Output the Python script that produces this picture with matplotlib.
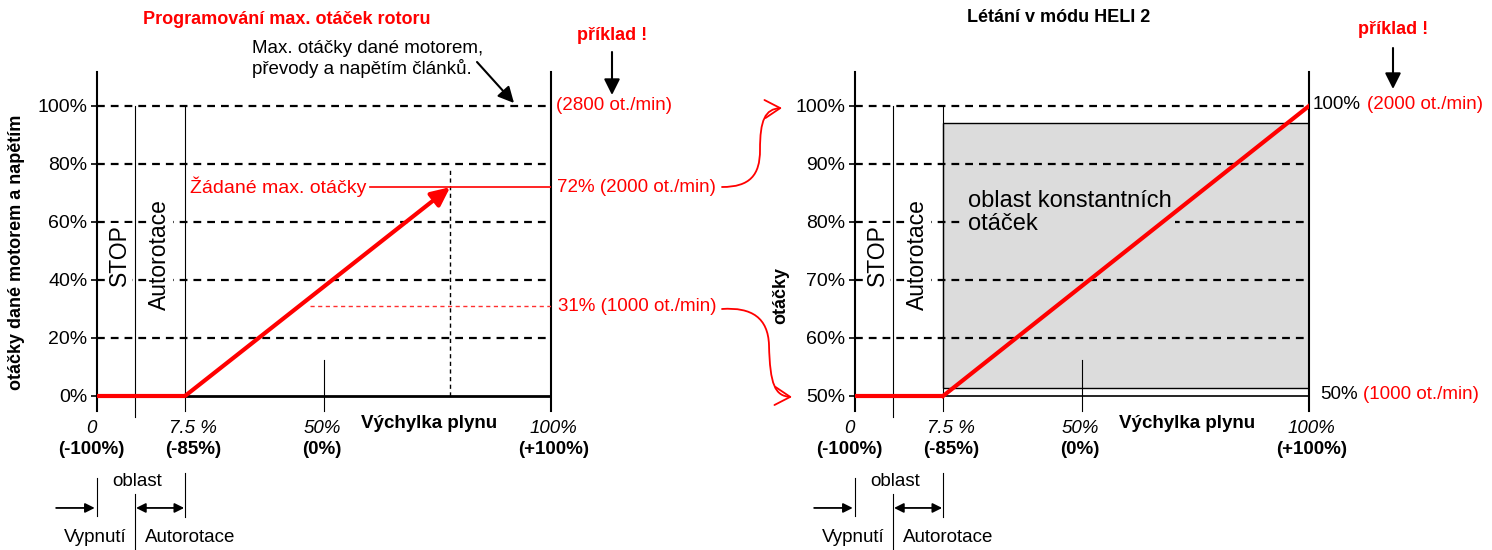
import matplotlib
matplotlib.use("Agg")
import matplotlib.pyplot as plt
from matplotlib.patches import FancyArrowPatch, Rectangle
from matplotlib.path import Path

plt.rcParams['font.family'] = ['Liberation Sans', 'DejaVu Sans']

# ---------------- data ----------------
y_ticks_left = [0, 20, 40, 60, 80, 100]
y_ticks_right = [50, 60, 70, 80, 90, 100]
throttle_top_labels = ["0", "7.5 %", "50%", "100%"]
throttle_bottom_labels = ["(-100%)", "(-85%)", "(0%)", "(+100%)"]
throttle_label_pos = [-1.3, 21.2, 49.6, 100.6]
stop_x = 8.4          # end of "STOP" zone (diagram position)
auto_x = 19.4         # 7.5 % throttle (diagram position)
mid_x = 50            # 50 % throttle
left_curve_x = [0, auto_x, 77.8]
left_curve_y = [0, 0, 72]
right_curve_x = [0, auto_x, 100]
right_curve_y = [50, 50, 100]
set_rpm_pct = 72
low_rpm_pct = 31
const_band = (51.4, 97.1)

RED = '#ff0000'
W, H, DPI = 1492, 550, 100
fig = plt.figure(figsize=(W / DPI, H / DPI), dpi=DPI)


def F(px, py):
    return (px / W, 1 - py / H)


def box(x0, x1, y0, y1):
    return [x0 / W, 1 - y1 / H, (x1 - x0) / W, (y1 - y0) / H]


axL = fig.add_axes(box(97, 551, 72, 411))
axR = fig.add_axes(box(855, 1309, 72, 411))
axL.set_xlim(0, 100)
axL.set_ylim(-5.2, 111.7)
axR.set_xlim(0, 100)
axR.set_ylim(47.41, 105.86)

GRID_LS = (0, (3.5, 2.7))


def common(ax, ticks):
    xt = ax.get_xaxis_transform()
    for s in ['top', 'bottom']:
        ax.spines[s].set_visible(False)
    for s in ['left', 'right']:
        ax.spines[s].set_linewidth(1.5)
    ax.set_xticks([])
    ax.set_yticks(ticks)
    ax.set_yticklabels([f"{t}%" for t in ticks], fontsize=14)
    ax.tick_params(axis='y', direction='out', length=4, width=1.2, pad=3,
                   right=False)
    ax.set_facecolor('none')
    for t in ticks[1:]:
        ax.axhline(t, color='k', lw=1.6, ls=GRID_LS, zorder=2)
    # zone lines
    ax.plot([stop_x, stop_x], [-0.018, 0.9], transform=xt, clip_on=False,
            color='k', lw=0.8, zorder=2.5)
    ax.plot([auto_x, auto_x], [0.0, 0.9], transform=xt, clip_on=False,
            color='k', lw=0.8, zorder=2.5)
    ax.plot([mid_x, mid_x], [0.0, 0.15], transform=xt, clip_on=False,
            color='k', lw=0.8, zorder=2.5)
    # rotated zone labels
    for xx, s in [(4.9, 'STOP'), (13.8, 'Autorotace')]:
        ax.text(xx, 0.46, s, transform=xt, rotation=90, fontsize=16.5,
                ha='center', va='center', zorder=3,
                bbox=dict(facecolor='white', edgecolor='none', pad=1))
    # x labels
    for pos, top, bot in zip(throttle_label_pos, throttle_top_labels,
                             throttle_bottom_labels):
        ax.text(pos, -0.053, top, transform=xt, style='italic', fontsize=13.5,
                ha='center', va='center', clip_on=False)
        ax.text(pos, -0.115, bot, transform=xt, fontweight='bold',
                fontsize=13.5, ha='center', va='center', clip_on=False)
    ax.text(73.2, -0.038, 'Výchylka plynu', transform=xt, fontweight='bold',
            fontsize=13.5, ha='center', va='center', clip_on=False)
    # bottom zone explanation
    for xx, y0, y1 in [(0, -0.198, -0.31), (stop_x, -0.245, -0.41),
                       (auto_x, -0.183, -0.313)]:
        ax.plot([xx, xx], [y0, y1], transform=xt, clip_on=False, color='k',
                lw=0.8)
    ax.annotate('', xy=(-0.5, -0.286), xytext=(-9, -0.286), xycoords=xt,
                textcoords=xt, annotation_clip=False,
                arrowprops=dict(arrowstyle='-|>', color='k', lw=1.3,
                                mutation_scale=14, shrinkA=0, shrinkB=0))
    ax.annotate('', xy=(auto_x - 0.2, -0.286), xytext=(stop_x + 0.2, -0.286),
                xycoords=xt, textcoords=xt, annotation_clip=False,
                arrowprops=dict(arrowstyle='<|-|>', color='k', lw=1.3,
                                mutation_scale=14, shrinkA=0, shrinkB=0))
    ax.text(8.8, -0.209, 'oblast', transform=xt, fontsize=13.5, ha='center',
            va='center', clip_on=False)
    ax.text(6.6, -0.372, 'Vypnutí', transform=xt, fontsize=13.5, ha='right',
            va='center', clip_on=False)
    ax.text(10.6, -0.372, 'Autorotace', transform=xt, fontsize=13.5,
            ha='left', va='center', clip_on=False)


common(axL, y_ticks_left)
common(axR, y_ticks_right)

# ---------------- left panel ----------------
axL.plot(left_curve_x[:2], left_curve_y[:2], color=RED, lw=3,
         solid_capstyle='butt', zorder=5)
axL.annotate('', xy=(left_curve_x[2], left_curve_y[2]),
             xytext=(left_curve_x[1], left_curve_y[1]),
             arrowprops=dict(arrowstyle='-|>,head_length=0.75,head_width=0.35',
                             color=RED, lw=3, mutation_scale=15,
                             shrinkA=0, shrinkB=0), zorder=5)
axL.plot([auto_x, 100], [0, 0], color='k', lw=2, zorder=4)
axL.plot([left_curve_x[2]] * 2, [0, 78], color='k', lw=1,
         ls=(0, (3, 2.5)), zorder=2)
axL.plot([60.1, 100], [set_rpm_pct] * 2, color=RED, lw=1.2, zorder=3)
axL.plot([46.9, 100], [low_rpm_pct] * 2, color='#ff3030', lw=1,
         ls=(0, (3, 2.5)), zorder=3)
axL.text(59.4, set_rpm_pct, 'Žádané max. otáčky', color=RED, fontsize=14,
         ha='right', va='center')
axL.text(101.1, 100, '(2800 ot./min)', color=RED, fontsize=13.5, ha='left',
         va='center', clip_on=False)
axL.text(101.3, set_rpm_pct, f'{set_rpm_pct}% (2000 ot./min)', color=RED,
         fontsize=13.5, ha='left', va='center', clip_on=False)
axL.text(101.5, low_rpm_pct, f'{low_rpm_pct}% (1000 ot./min)', color=RED,
         fontsize=13.5, ha='left', va='center', clip_on=False)

# ---------------- right panel ----------------
axR.add_patch(Rectangle((auto_x, const_band[0]), 100 - auto_x,
                        const_band[1] - const_band[0], facecolor='#dcdcdc',
                        edgecolor='k', lw=1.0, zorder=1))
axR.plot(right_curve_x[:2], right_curve_y[:2], color=RED, lw=3,
         solid_capstyle='butt', zorder=5)
axR.plot(right_curve_x[1:], right_curve_y[1:], color=RED, lw=3, zorder=5)
axR.plot([auto_x, 100], [50, 50], color='k', lw=1.2, zorder=4)
axR.text(24.9, 81.6, 'oblast konstantních\notáček', fontsize=17, ha='left',
         va='center', linespacing=1.05, zorder=3,
         bbox=dict(facecolor='#dcdcdc', edgecolor='none', pad=2))
t1 = axR.text(100.9, 100.3, '100%', fontsize=13.5, ha='left', va='center',
              clip_on=False)
axR.annotate('(2000 ot./min)', xy=(1, 0), xycoords=t1, xytext=(4, 0),
             textcoords='offset points', color=RED, fontsize=13.5,
             ha='left', va='bottom')
t2 = axR.text(102.4, 50.2, '50%', fontsize=13.5, ha='left', va='center',
              clip_on=False)
axR.annotate('(1000 ot./min)', xy=(1, 0), xycoords=t2, xytext=(4, 0),
             textcoords='offset points', color=RED, fontsize=13.5,
             ha='left', va='bottom')

# ---------------- figure-level texts ----------------
fig.text(*F(287, 19), 'Programování max. otáček rotoru', color=RED,
         fontweight='bold', fontsize=13, ha='center', va='center')
fig.text(*F(1059, 18), 'Létání v módu HELI 2', color='k',
         fontweight='bold', fontsize=13, ha='center', va='center')
fig.text(*F(612, 35), 'příklad !', color=RED, fontweight='bold', fontsize=13,
         ha='center', va='center')
fig.text(*F(1393, 30), 'příklad !', color=RED, fontweight='bold', fontsize=13,
         ha='center', va='center')
fig.text(*F(252, 59), 'Max. otáčky dané motorem,\npřevody a napětím článků.',
         fontsize=13.5, ha='left', va='center', linespacing=1.15)
fig.text(*F(17, 252), 'otáčky dané motorem a napětím', fontweight='bold',
         fontsize=13, rotation=90, ha='center', va='center')
fig.text(*F(781, 295), 'otáčky', fontweight='bold', fontsize=13,
         rotation=90, ha='center', va='center')

for (a, b) in [((612, 52), (612, 95)), ((1393, 48), (1393, 89)),
               ((477, 62), (514, 103))]:
    fig.add_artist(FancyArrowPatch(F(*a), F(*b), transform=fig.transFigure,
                                   arrowstyle='-|>', mutation_scale=24,
                                   color='k', lw=1.5, shrinkA=0, shrinkB=0))

# red curved connectors
curves = [
    [(722, 187), (750, 187), (760, 175), (760, 150),
     (760, 120), (765, 109), (782, 108)],
    [(722, 309), (752, 307), (768, 318), (769, 345),
     (770, 385), (775, 396), (792, 397)],
]
for pts in curves:
    verts = [F(*p) for p in pts]
    codes = [Path.MOVETO] + [Path.CURVE4] * 6
    fig.add_artist(FancyArrowPatch(path=Path(verts, codes),
                                   transform=fig.transFigure,
                                   arrowstyle='->,head_length=11,head_width=6.5',
                                   color=RED, lw=1.3))

fig.savefig('out.png', dpi=DPI)
